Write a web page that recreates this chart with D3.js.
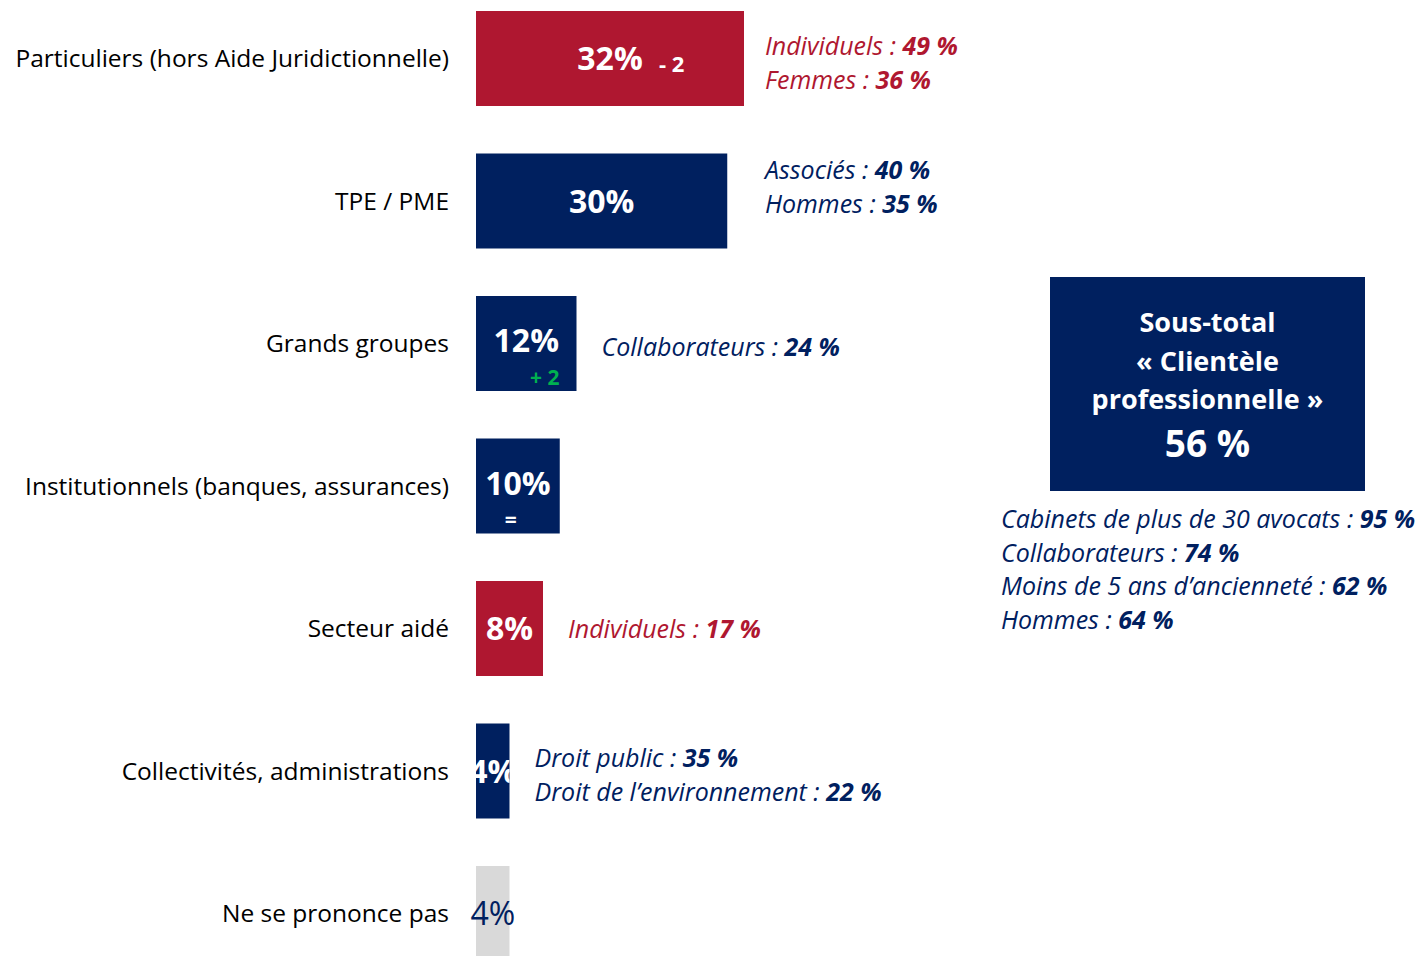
<!DOCTYPE html>
<html>
<head>
<meta charset="utf-8">
<script src="https://cdn.jsdelivr.net/npm/d3@7"></script>
<style>
  body { margin: 0; background: #fff; }
  svg text { font-family: "Open Sans", Lato, sans-serif; }
</style>
</head>
<body>
<div id="chart"></div>
<script>
// Data
var categories = [
  "Particuliers (hors Aide Juridictionnelle)",
  "TPE / PME",
  "Grands groupes",
  "Institutionnels (banques, assurances)",
  "Secteur aidé",
  "Collectivités, administrations",
  "Ne se prononce pas"
];
var values = [32, 30, 12, 10, 8, 4, 4];
var changes = ["- 2", "", "+ 2", "=", "", "", ""];
var kinds = ["red", "navy", "navy", "navy", "red", "navy", "grey"];

// annotations: [row, label, value]
var annotations = [
  [0, "Individuels : ", "49 %"],
  [0, "Femmes : ", "36 %"],
  [1, "Associés : ", "40 %"],
  [1, "Hommes : ", "35 %"],
  [2, "Collaborateurs : ", "24 %"],
  [4, "Individuels : ", "17 %"],
  [5, "Droit public : ", "35 %"],
  [5, "Droit de l\u2019environnement : ", "22 %"]
];

var subtotalLines = ["Sous-total", "\u00ab Clientèle", "professionnelle \u00bb"];
var subtotalValue = "56 %";
var subtotalNotes = [
  ["Cabinets de plus de 30 avocats : ", "95 %"],
  ["Collaborateurs : ", "74 %"],
  ["Moins de 5 ans d\u2019ancienneté : ", "62 %"],
  ["Hommes : ", "64 %"]
];

var colors = { red: "#AF1730", navy: "#00205F", grey: "#D9D9D9" };
var green = "#00B050";

var svgWidth = 1427;
var svgHeight = 956;

var svg = d3.select("#chart")
  .append("svg")
  .attr("width", svgWidth)
  .attr("height", svgHeight);

var x0 = 476;
var xScale = d3.scaleLinear()
  .domain([0, 32])
  .range([x0, x0 + 268]);

var yScale = d3.scaleBand()
  .domain(categories)
  .range([-12.75, 984.75])
  .paddingInner(1 / 3)
  .paddingOuter(1 / 6);

var rows = categories.map(function(c, i) {
  return { cat: c, value: values[i], change: changes[i], kind: kinds[i], i: i };
});

// changes that sit under the value label
function below(d) { return d.change == "+ 2" || d.change == "="; }

// clip paths so labels stay inside their bar
var defs = svg.append("defs");
defs.selectAll("clipPath")
  .data(rows)
  .enter()
  .append("clipPath")
  .attr("id", d => "clip" + d.i)
  .append("rect")
  .attr("x", x0)
  .attr("y", d => yScale(d.cat))
  .attr("width", d => xScale(d.value) - x0)
  .attr("height", yScale.bandwidth());

// category labels
svg.selectAll(".cat")
  .data(rows)
  .enter()
  .append("text")
  .attr("class", "cat")
  .attr("x", 449)
  .attr("y", d => yScale(d.cat) + yScale.bandwidth() / 2)
  .attr("dy", "0.35em")
  .attr("text-anchor", "end")
  .attr("font-size", "24.5px")
  .attr("fill", "#000")
  .text(d => d.cat);

// bars
svg.selectAll(".bar")
  .data(rows)
  .enter()
  .append("rect")
  .attr("class", "bar")
  .attr("x", x0)
  .attr("y", d => yScale(d.cat))
  .attr("width", d => xScale(d.value) - x0)
  .attr("height", yScale.bandwidth())
  .attr("fill", d => colors[d.kind]);

// value labels
svg.selectAll(".val")
  .data(rows)
  .enter()
  .append("text")
  .attr("class", "val")
  .attr("clip-path", d => d.kind == "grey" ? null : "url(#clip" + d.i + ")")
  .attr("x", d => (x0 + xScale(d.value)) / 2)
  .attr("y", d => yScale(d.cat) + yScale.bandwidth() / 2 - (below(d) ? 3 : 0))
  .attr("dy", "0.36em")
  .attr("text-anchor", "middle")
  .attr("font-size", "32px")
  .attr("font-weight", d => d.kind == "grey" ? "normal" : "bold")
  .attr("fill", d => d.kind == "grey" ? colors.navy : "#fff")
  .text(d => d.value + "%");

// changes vs previous wave
var ch = rows.filter(d => d.change != "");
svg.selectAll(".chg")
  .data(ch)
  .enter()
  .append("text")
  .attr("class", "chg")
  .attr("x", function(d) {
    if (d.change == "- 2") return (x0 + xScale(d.value)) / 2 + 49;
    if (d.change == "+ 2") return xScale(d.value) - 17;
    return (x0 + xScale(d.value)) / 2 - 7;
  })
  .attr("y", function(d) {
    var c = yScale(d.cat) + yScale.bandwidth() / 2;
    if (d.change == "- 2") return c + 13;
    return c + 41;
  })
  .attr("text-anchor", d => d.change == "- 2" ? "start" : (d.change == "+ 2" ? "end" : "middle"))
  .attr("font-size", d => below(d) ? "21px" : "22px")
  .attr("font-weight", "bold")
  .attr("fill", d => d.change == "+ 2" ? green : "#fff")
  .text(d => d.change);

// annotations next to bars
var lineH = 34;
var rowShift = { 0: 5, 1: -14, 4: 1 };
function anchorX(row) {
  // first two rows share one column
  if (row <= 1) return xScale(d3.max([values[0], values[1]])) + 21;
  return xScale(values[row]) + 25;
}
var annGroups = d3.groups(annotations, d => d[0]);
annGroups.forEach(function(g) {
  var row = g[0], lines = g[1];
  var shift = rowShift[row] != null ? rowShift[row] : 4;
  var cy = yScale(categories[row]) + yScale.bandwidth() / 2 + shift;
  var top = cy - (lines.length - 1) * lineH / 2;
  lines.forEach(function(a, k) {
    var t = svg.append("text")
      .attr("x", anchorX(row))
      .attr("y", top + k * lineH)
      .attr("dy", "0.35em")
      .attr("font-size", "25px")
      .attr("font-style", "italic")
      .attr("fill", colors[kinds[row]]);
    t.append("tspan").text(a[1]);
    t.append("tspan").attr("font-weight", "bold").text(a[2]);
  });
});

// sub-total box
var box = { x: 1050, y: 277, w: 315, h: 214 };
svg.append("rect")
  .attr("x", box.x)
  .attr("y", box.y)
  .attr("width", box.w)
  .attr("height", box.h)
  .attr("fill", colors.navy);

svg.selectAll(".sub")
  .data(subtotalLines)
  .enter()
  .append("text")
  .attr("class", "sub")
  .attr("x", box.x + box.w / 2)
  .attr("y", (d, i) => box.y + 55 + i * 38.5)
  .attr("text-anchor", "middle")
  .attr("font-size", "27px")
  .attr("font-weight", "bold")
  .attr("fill", "#fff")
  .text(d => d);

svg.append("text")
  .attr("x", box.x + box.w / 2)
  .attr("y", box.y + 180)
  .attr("text-anchor", "middle")
  .attr("font-size", "37px")
  .attr("font-weight", "bold")
  .attr("fill", "#fff")
  .text(subtotalValue);

subtotalNotes.forEach(function(a, k) {
  var t = svg.append("text")
    .attr("x", 1001)
    .attr("y", 528 + k * 33.7)
    .attr("font-size", "25px")
    .attr("font-style", "italic")
    .attr("fill", colors.navy);
  t.append("tspan").text(a[0]);
  t.append("tspan").attr("font-weight", "bold").text(a[1]);
});
</script>
</body>
</html>
